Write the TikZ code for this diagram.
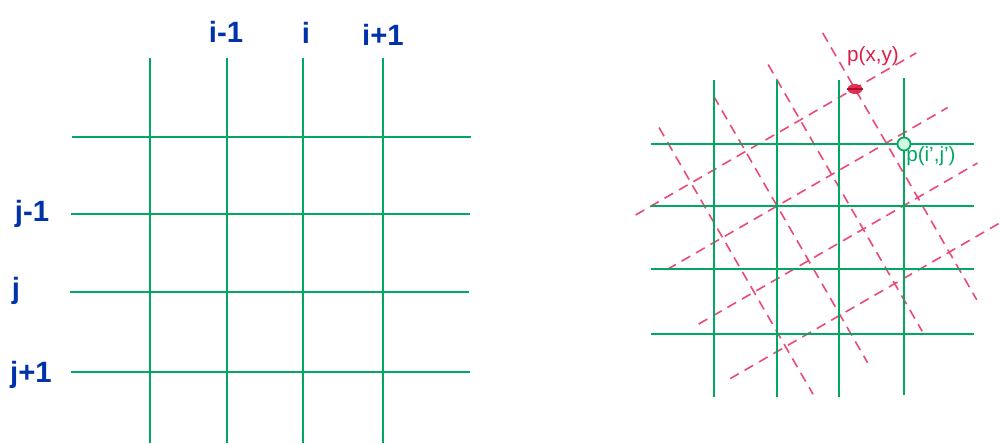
\documentclass[tikz,border=0pt]{standalone}
\usepackage{fontspec}
\setmainfont{Liberation Sans}
\definecolor{gridgreen}{HTML}{00A862}
\definecolor{lblblue}{HTML}{0033AA}
\definecolor{dashred}{HTML}{EC4A74}
\definecolor{ptred}{HTML}{DC1E46}
\definecolor{ptdark}{HTML}{B0102E}
\definecolor{mint}{HTML}{D4F7E4}
\tikzset{
  gline/.style={draw=gridgreen, line width=1.5pt},
  rline/.style={draw=dashred, line width=1.2pt, dash pattern=on 7.5pt off 5pt},
  biglbl/.style={text=lblblue, font=\bfseries\fontsize{22}{24}\selectfont, inner sep=0pt, anchor=base},
  smalllbl/.style={font=\fontsize{15.5}{18}\selectfont, inner sep=0pt, anchor=base},
}
\begin{document}
\begin{tikzpicture}[x=0.75pt, y=-0.75pt]
\useasboundingbox (0,0) rectangle (1000,443);
% ---- left grid ----
\foreach \x in {150,227,303,383} \draw[gline] (\x,58) -- (\x,443);
\foreach \y/\a/\b in {137/72/471, 214/71/470, 292/70/469, 372/71/470} \draw[gline] (\a,\y) -- (\b,\y);
\node[biglbl] (im1) at (226,42) {i-1};
\node[biglbl] (ii) at (306,43) {i};
\node[biglbl] (ip1) at (383,45) {i+1};
\node[biglbl] (jm1) at (32,221) {j-1};
\node[biglbl] (jj) at (16,298) {j};
\node[biglbl] (jp1) at (31,382) {j+1};
% ---- right: rotated dashed grid ----
\foreach \k in {0,1,2,3} {
  \pgfmathsetmacro{\s}{696-63*\k}
  \draw[rline] ({0.866*\s+0.5*440},{-0.5*\s+0.866*440}) -- ({0.866*\s+0.5*748},{-0.5*\s+0.866*748});
}
\foreach \m/\e in {0/767,1/767,2/765,3/760} {
  \pgfmathsetmacro{\t}{504+63*\m}
  \draw[rline] ({0.866*443+0.5*\t},{-0.5*443+0.866*\t}) -- ({0.866*\e+0.5*\t},{-0.5*\e+0.866*\t});
}
% ---- right: green grid ----
\foreach \x in {714,777,839} \draw[gline] (\x,80) -- (\x,397);
\draw[gline] (904,78) -- (904,395);
\foreach \y in {144,206,269,334} \draw[gline] (651,\y) -- (974,\y);
% ---- points ----
\fill[ptred, opacity=0.9] (855,89) ellipse [x radius=7.5, y radius=5];
\draw[ptdark, line width=1.2pt] (847,89) -- (863,89);
\node[smalllbl, text=ptred] (pxy) at (873,61) {p(x,y)};
\draw[gridgreen, fill=mint, line width=1.3pt] (904,144) circle [radius=6.5];
\node[smalllbl, text=gridgreen, anchor=base west] (pij) at (906,161) {p(i',j')};
\end{tikzpicture}
\end{document}
